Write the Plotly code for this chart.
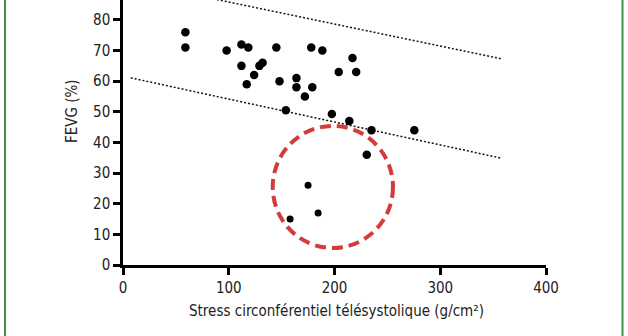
import plotly.graph_objects as go

# Data
stress_main = [59, 59, 98, 112, 118.5, 112, 117, 124, 129, 132, 145, 148, 154, 164, 164,
               172, 179, 178, 188.5, 217, 204, 220.5, 197.5, 214, 235, 275.5, 230.5]
fevg_main = [76, 71, 70, 72, 71, 65, 59, 62, 65, 66, 71, 60, 50.5, 61, 58,
             55, 58, 71, 70, 67.6, 63, 63, 49.3, 47, 44, 44, 36]
stress_low = [175, 158, 184.5]
fevg_low = [26, 15, 17]

upper_x = [7.3, 358]
upper_y = [92.5, 67.3]
lower_x = [7.3, 357.4]
lower_y = [61.1, 34.9]

x_ticks = [0, 100, 200, 300, 400]
y_ticks = [0, 10, 20, 30, 40, 50, 60, 70, 80]

# highlighted region (ellipse bounds in data units)
circle_x = [141.6, 255.3]
circle_y = [5.55, 45.4]

FONT = "DejaVu Sans Condensed, Liberation Sans Narrow, Roboto, sans-serif"
TXT = "#222222"

fig = go.Figure()
fig.add_trace(go.Scatter(x=upper_x, y=upper_y, mode="lines",
                         line=dict(color="#111111", width=1.5, dash="2px,2px"),
                         hoverinfo="skip", showlegend=False))
fig.add_trace(go.Scatter(x=lower_x, y=lower_y, mode="lines",
                         line=dict(color="#111111", width=1.5, dash="2px,2px"),
                         hoverinfo="skip", showlegend=False))
fig.add_trace(go.Scatter(x=stress_main, y=fevg_main, mode="markers",
                         marker=dict(color="black", size=8.5), showlegend=False))
fig.add_trace(go.Scatter(x=stress_low, y=fevg_low, mode="markers",
                         marker=dict(color="black", size=7), showlegend=False))

fig.add_shape(type="circle", xref="x", yref="y",
              x0=circle_x[0], x1=circle_x[1], y0=circle_y[0], y1=circle_y[1],
              line=dict(color="#d43b3b", width=4, dash="11px,6px"))

# green frame lines
L, R, B = 123, 546, 265
def px(xp):
    return (xp - L) / (R - L)
def py(yp):
    return (B - yp) / B
for xp in [5, 622.5]:
    fig.add_shape(type="line", xref="paper", yref="paper",
                  x0=px(xp), x1=px(xp), y0=py(0), y1=py(336),
                  line=dict(color="#3f8f49", width=2))

fig.add_annotation(text="Stress circonférentiel télésystolique (g/cm²)",
                   xref="paper", yref="paper", x=px(336), y=py(311),
                   xanchor="center", yanchor="middle", showarrow=False,
                   font=dict(family=FONT, size=15, color=TXT))
fig.add_annotation(text="FEVG (%)", textangle=-90,
                   xref="paper", yref="paper", x=px(72), y=py(111),
                   xanchor="center", yanchor="middle", showarrow=False,
                   font=dict(family=FONT, size=15, color=TXT))

fig.update_xaxes(range=[0, 400], tickvals=x_ticks, showgrid=False, zeroline=False,
                 showline=True, linecolor="black", linewidth=2.5,
                 ticks="outside", ticklen=7, tickwidth=2.5, tickcolor="black",
                 tickfont=dict(family=FONT, size=15, color=TXT))
fig.update_yaxes(range=[0, 86.5], tickvals=y_ticks, showgrid=False, zeroline=False,
                 showline=True, linecolor="black", linewidth=2.5,
                 ticks="outside", ticklen=7, tickwidth=2.5, tickcolor="black",
                 tickfont=dict(family=FONT, size=15, color=TXT))

fig.update_layout(width=628, height=336,
                  margin=dict(l=L, r=628 - R, t=0, b=336 - B),
                  plot_bgcolor="white", paper_bgcolor="white")

fig.write_html("out.html")
